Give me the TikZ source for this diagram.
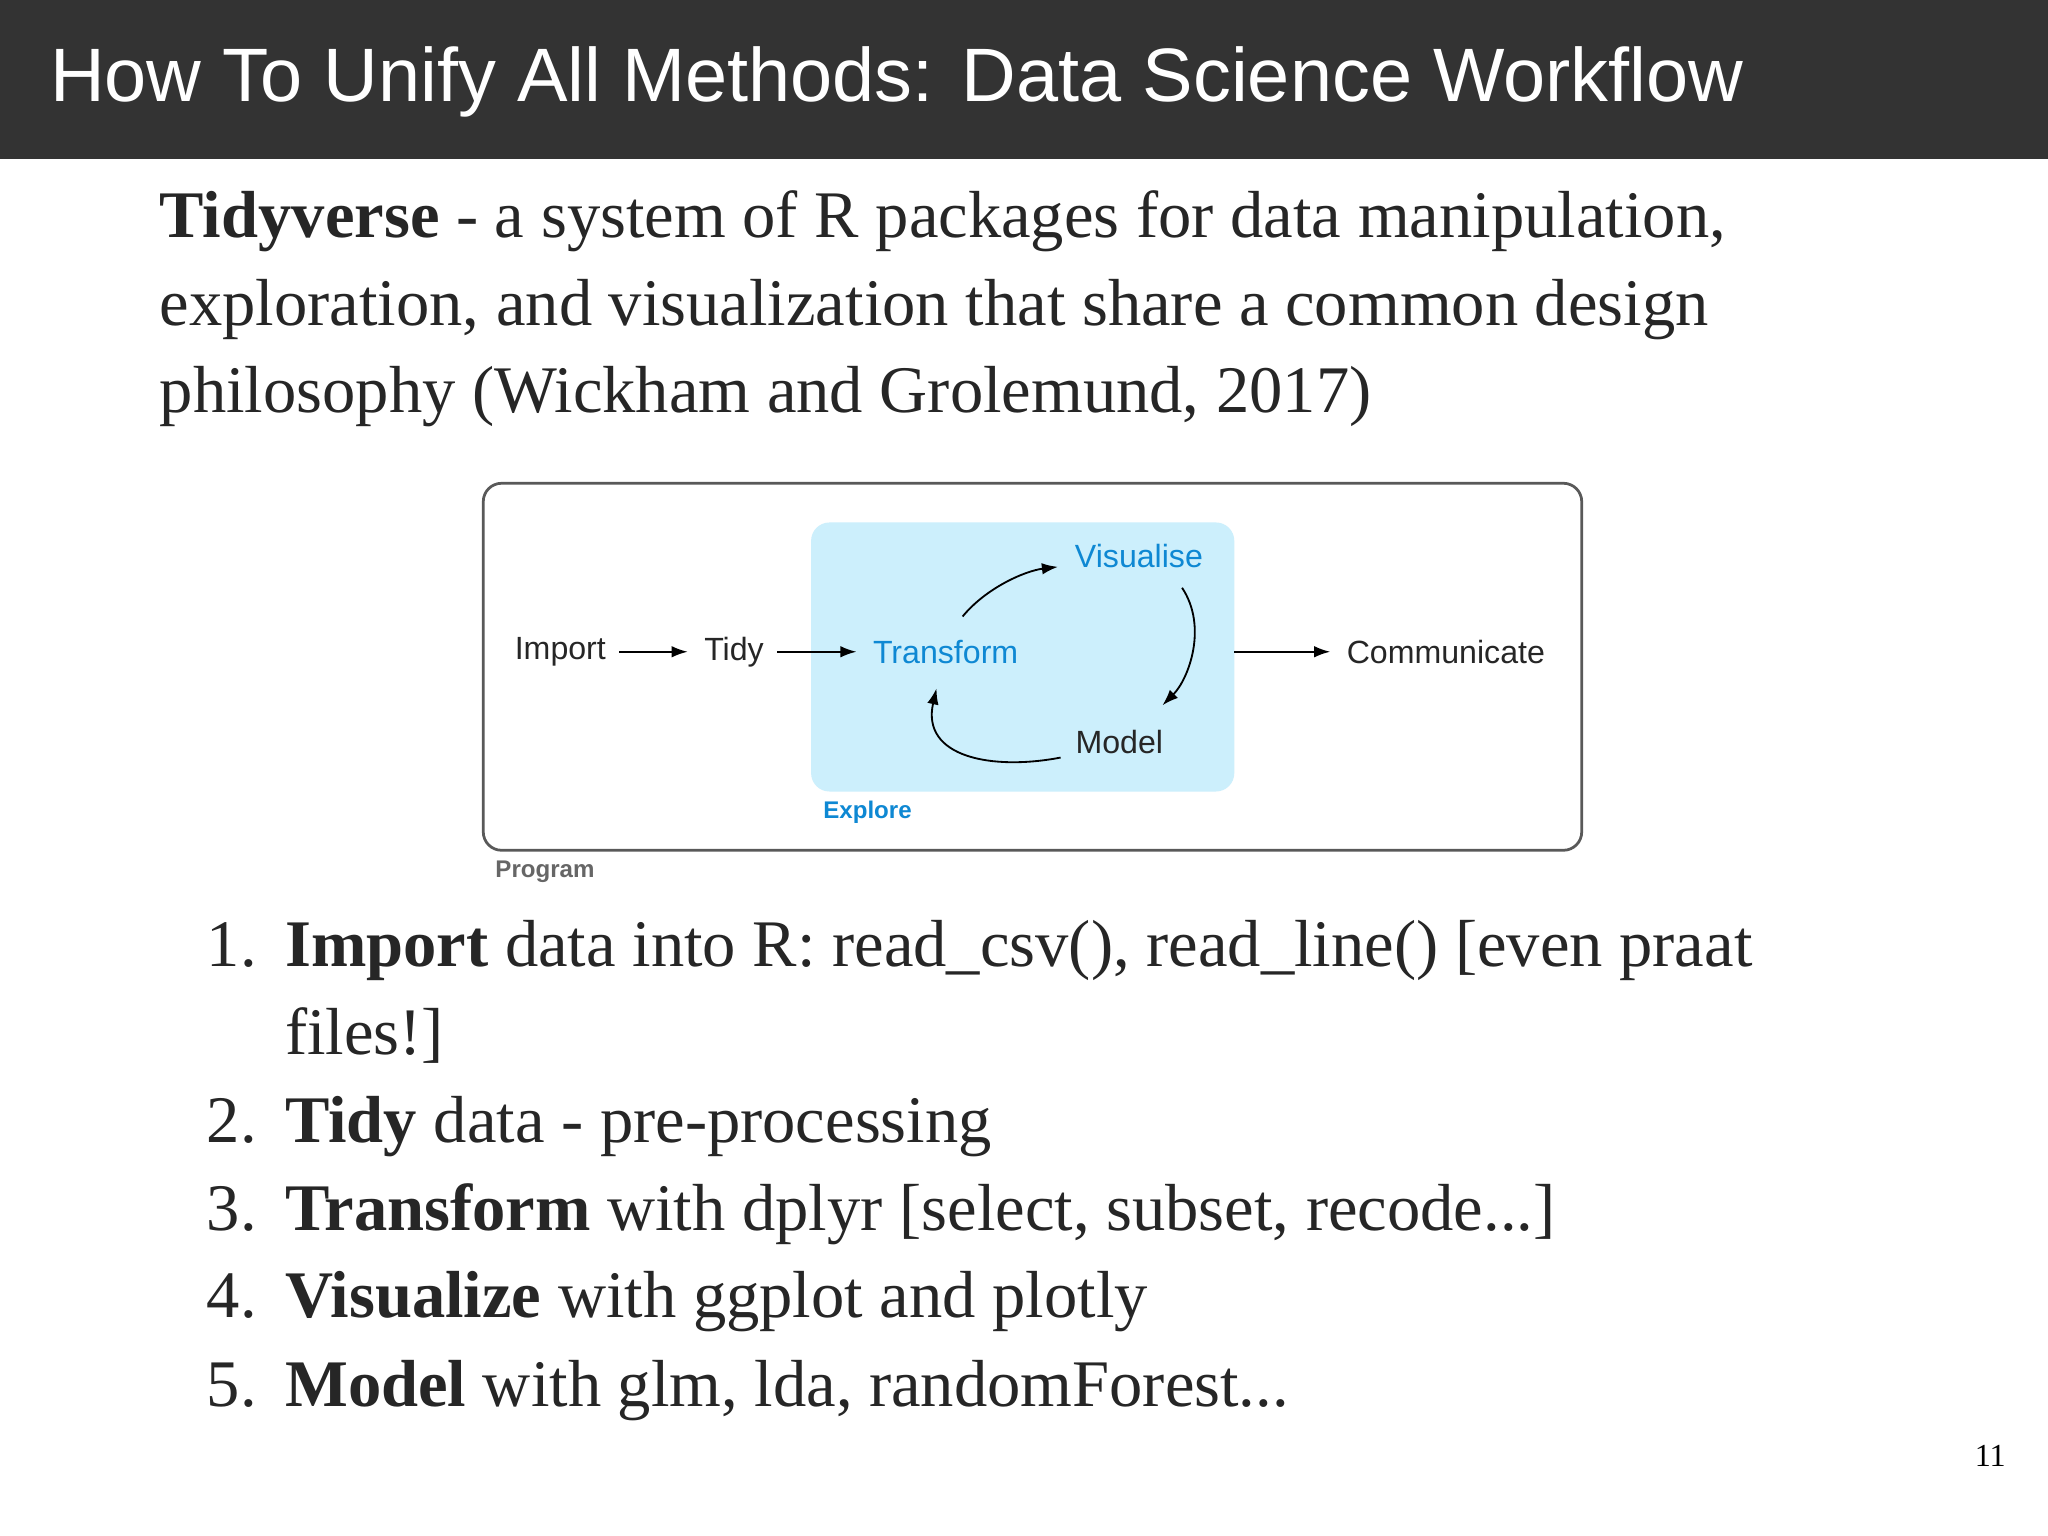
\documentclass[tikz,border=0pt]{standalone}
\usepackage{fontspec}
\setmainfont{Liberation Serif}
\newfontfamily\hsans{Liberation Sans}
\usetikzlibrary{arrows.meta}
\begin{document}
\begin{tikzpicture}[x=0.02cm,y=-0.02cm,
  body/.style={anchor=base west,inner sep=0,font=\fontsize{29}{34}\selectfont,text=black!85},
  lbl/.style={font=\hsans\fontsize{14}{16}\selectfont,inner sep=1pt,text=black!85},
  blbl/.style={lbl,text=cyan!70!blue},
  arr/.style={-{Latex[length=7pt,width=5pt]},line width=0.8pt}]
\useasboundingbox (0,0) rectangle (1568,1176);
\fill[white] (0,0) rectangle (1568,1176);
\fill[black!80] (0,0) rectangle (1568,122);
\node[anchor=base west,inner sep=0,text=white,font=\hsans\fontsize{33}{40}\selectfont] (title) at (38,78) {How To Unify All Methods: Data Science Workflow};
\node[body] (p1) at (122,182) {\textbf{Tidyverse} - a system of R packages for data manipulation,};
\node[body] (p2) at (122,249) {exploration, and visualization that share a common design};
\node[body] (p3) at (122,316) {philosophy (Wickham and Grolemund, 2017)};
% diagram
\draw[black!65,line width=1.2pt,rounded corners=8pt] (370,370) rectangle (1211,651);
\fill[cyan!20,rounded corners=8pt] (621,400) rectangle (945,606);
\node[lbl] (imp) at (429,499) {Import};
\node[lbl] (tidy) at (562,499) {Tidy};
\node[blbl] (tr) at (724,499) {Transform};
\node[blbl] (vis) at (872,426) {Visualise};
\node[lbl] (mod) at (857,568) {Model};
\node[lbl] (com) at (1107,499) {Communicate};
\coordinate (eb) at (945,499);
\draw[arr] (imp.east)++(8,0) -- ([xshift=-6pt]tidy.west);
\draw[arr] (tidy.east)++(8,0) -- ([xshift=-6pt]tr.west);
\draw[arr] (eb) -- ([xshift=-6pt]com.west);
\coordinate (a1) at (737,472); \coordinate (a2) at (810,434);
\draw[arr] (a1) .. controls (755,450) and (785,437) .. (a2);
\coordinate (b1) at (905,450); \coordinate (b2) at (890,540);
\draw[arr] (b1) .. controls (925,480) and (910,520) .. (b2);
\coordinate (c1) at (812,580); \coordinate (c2) at (717,527);
\draw[arr] (c1) .. controls (760,590) and (705,580) .. (c2);
\node[anchor=base west,inner sep=0,font=\hsans\bfseries\fontsize{10.5}{12}\selectfont,text=cyan!70!blue] (exp) at (630,627) {Explore};
\node[anchor=base west,inner sep=0,font=\hsans\bfseries\fontsize{10.5}{12}\selectfont,text=black!60] (prog) at (379,672) {Program};
% list
\node[body] (n1) at (158,740) {1.};
\node[body] (t1) at (218,740) {\textbf{Import} data into R: read\_csv(), read\_line() [even praat};
\node[body] (t1b) at (218,807) {files!]};
\node[body] (n2) at (158,875) {2.};
\node[body] (t2) at (218,875) {\textbf{Tidy} data - pre-processing};
\node[body] (n3) at (158,942) {3.};
\node[body] (t3) at (218,942) {\textbf{Transform} with dplyr [select, subset, recode...]};
\node[body] (n4) at (158,1009) {4.};
\node[body] (t4) at (218,1009) {\textbf{Visualize} with ggplot and plotly};
\node[body] (n5) at (158,1077) {5.};
\node[body] (t5) at (218,1077) {\textbf{Model} with glm, lda, randomForest...};
\node[anchor=base east,inner sep=0,font=\fontsize{14}{16}\selectfont] (pg) at (1536,1123) {11};
\end{tikzpicture}
\end{document}
